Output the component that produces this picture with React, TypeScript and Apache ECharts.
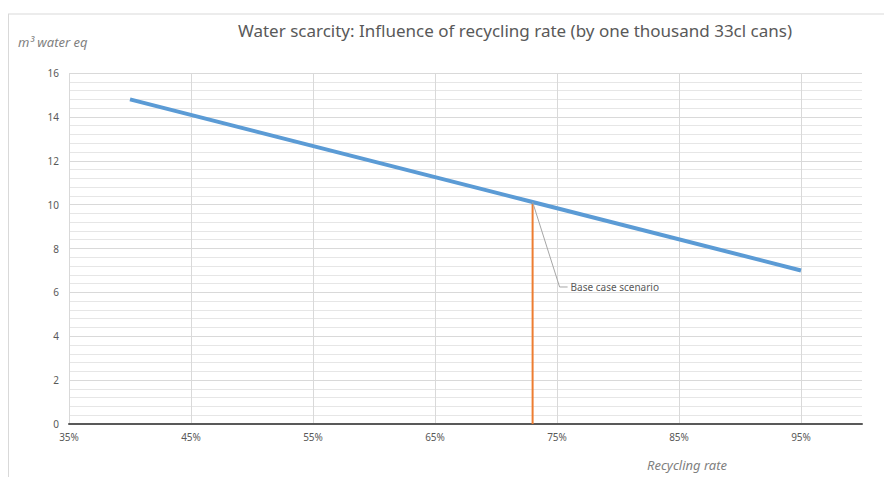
import React, { useEffect, useRef } from "react";
import * as echarts from "echarts";

const TITLE = "Water scarcity: Influence of recycling rate (by one thousand 33cl cans)";
const Y_NAME = "m³ water eq";
const X_NAME = "Recycling rate";
const BASE_LABEL = "Base case scenario";

// recycling rate (%) and water scarcity (m³ water eq)
const rates = [40, 73, 95];
const water = [14.8, 10.12, 7.0];
const baseRate = 73;
const baseValue = 10.12;
const xTicks = [35, 45, 55, 65, 75, 85, 95];

const FONT = "Noto Sans";
const GREY = "#595959";

export default function App() {
  const ref = useRef<HTMLDivElement>(null);
  useEffect(() => {
    if (!ref.current) return;
    const chart = echarts.init(ref.current, null, { renderer: "svg" });
    const option: any = {
      animation: false,
      backgroundColor: "#fff",
      textStyle: { fontFamily: FONT },
      title: {
        text: TITLE,
        left: 510,
        textAlign: "center",
        top: 17,
        textStyle: { fontFamily: FONT, fontSize: 17, fontWeight: "normal", color: GREY },
      },
      grid: { left: 69, right: 22, top: 73, bottom: 53 },
      xAxis: {
        type: "value",
        min: 35,
        max: 100,
        axisLine: { show: true, lineStyle: { color: "#595959", width: 2 } },
        axisTick: { show: false, customValues: xTicks },
        axisLabel: {
          customValues: xTicks,
          formatter: (v: number) => v + "%",
          color: GREY,
          fontSize: 10,
          margin: 8,
          fontFamily: FONT,
        },
        splitLine: { show: true, lineStyle: { color: "#d9d9d9", width: 1 } },
      },
      yAxis: {
        type: "value",
        min: 0,
        max: 16,
        interval: 2,
        axisLine: { show: false },
        axisTick: { show: false },
        axisLabel: { color: GREY, fontSize: 10, margin: 10, fontFamily: FONT },
        splitLine: { show: true, lineStyle: { color: "#d9d9d9", width: 1 } },
        minorTick: { show: false, splitNumber: 5 },
        minorSplitLine: { show: true, lineStyle: { color: "#e6e6e6", width: 1 } },
      },
      series: [
        {
          type: "line",
          data: rates.map((r, i) => [r, water[i]]),
          symbol: "none",
          lineStyle: { color: "#5B9BD5", width: 4 },
          z: 3,
        },
        {
          type: "line",
          data: [
            [baseRate, 0],
            [baseRate, baseValue],
          ],
          symbol: "none",
          lineStyle: { color: "#ED7D31", width: 2 },
          z: 2,
        },
      ],
      graphic: [
        {
          type: "line",
          shape: { x1: 8, y1: 14, x2: 884, y2: 14 },
          style: { stroke: "#d9d9d9", lineWidth: 1 },
        },
        {
          type: "line",
          shape: { x1: 8.5, y1: 14, x2: 8.5, y2: 477 },
          style: { stroke: "#d9d9d9", lineWidth: 1 },
        },
        {
          type: "text",
          left: 18,
          top: 35,
          style: { text: Y_NAME, font: "italic 13px " + FONT, fill: "#7f7f7f" },
        },
        {
          type: "text",
          left: 647,
          top: 458,
          style: { text: X_NAME, font: "italic 13px " + FONT, fill: "#7f7f7f" },
        },
      ],
    };
    chart.setOption(option);
    const p = chart.convertToPixel({ gridIndex: 0 }, [baseRate, baseValue]) as number[];
    const ex = p[0] + 27;
    const ey = p[1] + 85;
    chart.setOption({
      graphic: [
        ...option.graphic,
        {
          type: "polyline",
          shape: { points: [[p[0], p[1]], [ex, ey], [ex + 8, ey]] },
          style: { stroke: "#a6a6a6", lineWidth: 1, fill: null },
          z: 10,
        },
        {
          type: "text",
          x: ex + 11,
          y: ey,
          style: {
            text: BASE_LABEL,
            font: "10px " + FONT,
            fill: GREY,
            verticalAlign: "middle",
          },
          z: 10,
        },
      ],
    });
    return () => chart.dispose();
  }, []);
  return (
    <div
      ref={ref}
      style={{ position: "fixed", left: 0, top: 0, width: 884, height: 477 }}
    />
  );
}
